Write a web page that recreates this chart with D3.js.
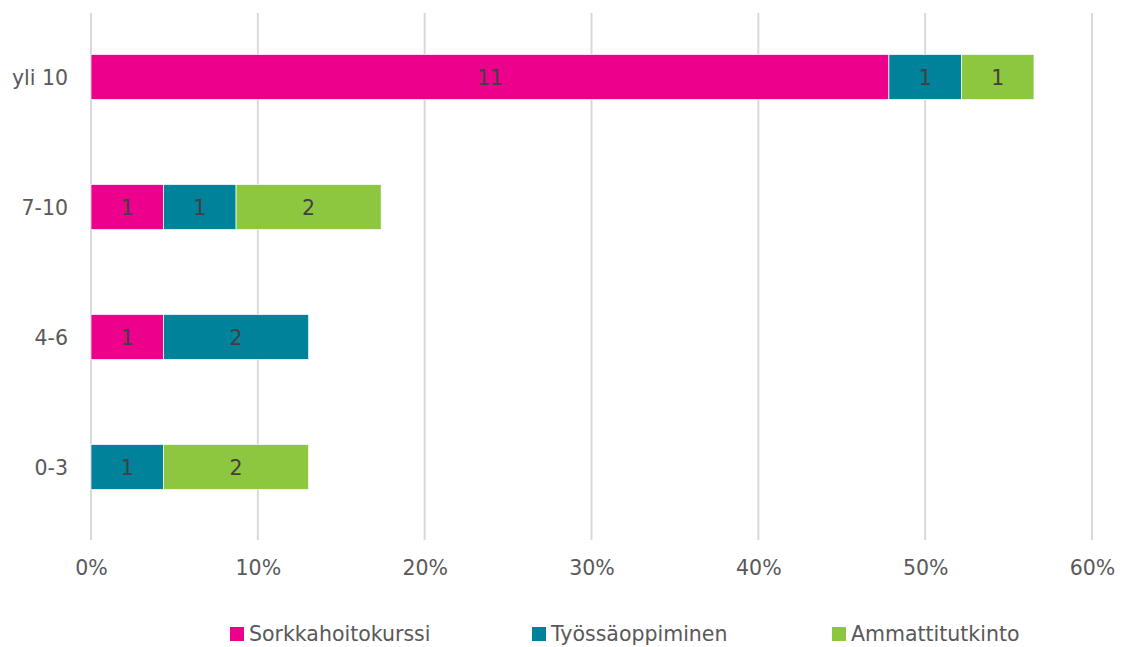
<!DOCTYPE html>
<html><head><meta charset="utf-8">
<script src="https://cdn.jsdelivr.net/npm/d3@7"></script>
<style>body{margin:0;background:#fff}svg{display:block}</style>
</head><body>
<svg id="c" width="1130" height="647"></svg>
<script>
const categories = ["yli 10", "7-10", "4-6", "0-3"];
const seriesNames = ["Sorkkahoitokurssi", "Työssäoppiminen", "Ammattitutkinto"];
const colors = ["#EC008C", "#00829B", "#8DC63F"];
const sorkka = [11, 1, 1, 0];
const tyossa = [1, 1, 2, 1];
const ammatti = [1, 2, 0, 2];
const total = 23;
const tickValues = [0, 0.1, 0.2, 0.3, 0.4, 0.5, 0.6];

const svg = d3.select("#c");
const font = "DejaVu Sans";
const fs = 20.5;
const x = d3.scaleLinear().domain([0, 0.6]).range([91, 1092]);
const y = d3.scaleBand().domain(categories).range([12, 532]).paddingInner(0.654).paddingOuter(0.327);

const series = [sorkka, tyossa, ammatti];
svg.append("g").selectAll("line").data(tickValues).join("line")
  .attr("x1", d => x(d)).attr("x2", d => x(d))
  .attr("y1", 13).attr("y2", 540)
  .attr("stroke", "#D9D9D9").attr("stroke-width", 2);

const axis = d3.axisBottom(x).tickValues(tickValues).tickFormat(d3.format(".0%")).tickSize(0).tickPadding(0);
const ag = svg.append("g").attr("transform", "translate(0,575)").call(axis);
ag.select(".domain").remove();
ag.selectAll("text").attr("font-family", font).attr("font-size", fs).attr("fill", "#595959").attr("dy", 0);

const yaxis = d3.axisLeft(y).tickSize(0).tickPadding(0);
const yg = svg.append("g").attr("transform", "translate(68,1)").call(yaxis);
yg.select(".domain").remove();
yg.selectAll("text").attr("font-family", font).attr("font-size", fs).attr("fill", "#595959").attr("dy", "0.35em");

categories.forEach((c, i) => {
  let acc = 0;
  series.forEach((s, k) => {
    const v = s[i];
    if (!v) return;
    const x0 = x(acc / total), x1 = x((acc + v) / total);
    svg.append("rect").attr("x", x0).attr("y", y(c)).attr("width", x1 - x0).attr("height", y.bandwidth())
      .attr("fill", colors[k]).attr("stroke", "#fff").attr("stroke-width", 0.7);
    svg.append("text").attr("x", (x0 + x1) / 2).attr("y", y(c) + y.bandwidth() / 2 + 1)
      .attr("dy", "0.35em").attr("text-anchor", "middle")
      .attr("font-family", font).attr("font-size", fs).attr("fill", "#404040").text(v);
    acc += v;
  });
});

const legX = [230, 532, 832];
seriesNames.forEach((n, k) => {
  svg.append("rect").attr("x", legX[k]).attr("y", 627).attr("width", 14).attr("height", 14).attr("fill", colors[k]);
  svg.append("text").attr("x", legX[k] + 19).attr("y", 634).attr("dy", "0.35em")
    .attr("font-family", font).attr("font-size", fs).attr("fill", "#595959").text(n);
});
</script>
</body></html>
